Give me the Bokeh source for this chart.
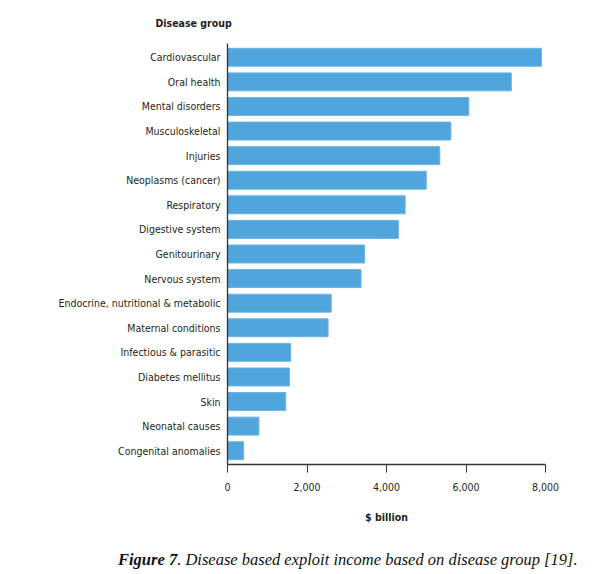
from bokeh.plotting import figure
from bokeh.models import FactorRange, Range1d, NumeralTickFormatter, FixedTicker, Div, Title
from bokeh.layouts import column
from bokeh.embed import file_html
from bokeh.resources import INLINE

groups = ["Cardiovascular", "Oral health", "Mental disorders", "Musculoskeletal",
          "Injuries", "Neoplasms (cancer)", "Respiratory", "Digestive system",
          "Genitourinary", "Nervous system", "Endocrine, nutritional & metabolic",
          "Maternal conditions", "Infectious & parasitic", "Diabetes mellitus",
          "Skin", "Neonatal causes", "Congenital anomalies"]
values = [7900, 7140, 6070, 5620, 5340, 5000, 4470, 4300,
          3450, 3360, 2610, 2530, 1590, 1560, 1465, 790, 405]
x_ticks = [0, 2000, 4000, 6000, 8000]

FONT = "'DejaVu Sans Condensed', 'Liberation Sans Narrow', Roboto, sans-serif"
TXT = "#231f20"

p = figure(width=599, height=538, output_backend="svg", toolbar_location=None,
           y_range=FactorRange(factors=list(reversed(groups)), range_padding=0.06,
                               range_padding_units="absolute"),
           x_range=Range1d(0, 8000),
           min_border_left=227, min_border_right=54, min_border_top=42, min_border_bottom=74)

p.hbar(y=groups, right=values, left=0, height=0.73, fill_color="#4fa5dc",
       line_color="#6bb4e3", line_width=1)

p.title = Title(text="Disease group", text_font=FONT, text_font_size="10.5px",
                text_font_style="bold", text_color=TXT, align="left", offset=-72,
                standoff=29)

p.outline_line_color = None
p.grid.grid_line_color = None

p.xaxis.ticker = FixedTicker(ticks=x_ticks)
p.xaxis.formatter = NumeralTickFormatter(format="0,0")
p.xaxis.axis_label = "$ billion"
p.xaxis.axis_label_text_font = FONT
p.xaxis.axis_label_text_font_size = "10.5px"
p.xaxis.axis_label_text_font_style = "bold"
p.xaxis.axis_label_text_color = TXT
p.xaxis.axis_label_standoff = 17
p.xaxis.major_tick_out = 8
p.xaxis.major_tick_in = 0
p.xaxis.minor_tick_line_color = None
p.xaxis.major_label_standoff = 10

p.yaxis.minor_tick_line_color = None
p.yaxis.major_label_standoff = 1

for ax in (p.xaxis, p.yaxis):
    ax.axis_line_color = "#333333"
    ax.axis_line_width = 1.3
    ax.major_label_text_font = FONT
    ax.major_label_text_font_size = "10.5px"
    ax.major_label_text_color = TXT
p.xaxis.major_tick_line_color = "#333333"
p.yaxis.major_tick_line_color = None

caption = Div(text='<span style="font-family:\'Liberation Serif\',serif;font-style:italic;'
                   'font-size:16.5px;color:#111;"><b>Figure 7</b>. Disease based exploit income '
                   'based on disease group [19].</span>',
              width=599, height=26, styles={"padding-left": "113px", "margin-top": "10px"})

layout = column(p, caption, spacing=0)
open("out.html", "w").write(file_html(layout, INLINE))
